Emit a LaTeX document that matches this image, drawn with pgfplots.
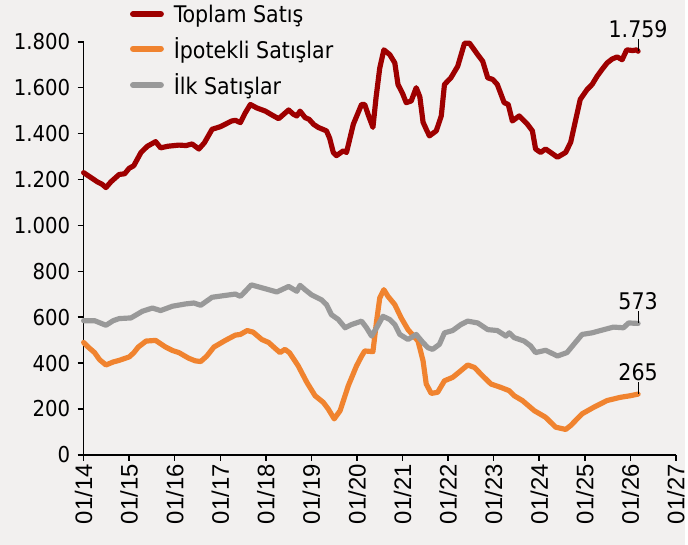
\documentclass[border=0pt]{standalone}
\usepackage{fontspec}
\setmainfont{DejaVu Sans Condensed}
\newfontfamily\arialf{Liberation Sans}
\usepackage{pgfplots}
\pgfplotsset{compat=1.18}

\definecolor{bg}{HTML}{F2F0EF}
\definecolor{toplam}{HTML}{9E0000}
\definecolor{ipotek}{HTML}{F0832F}
\definecolor{ilk}{HTML}{999999}

% x = years since 01/2014 (monthly data, last point 03/2026)
\pgfplotstableread{
x y
0 1230
0.15 1210
0.3 1190
0.4 1180
0.49 1165
0.6 1190
0.78 1222
0.9 1225
1.0 1249
1.1 1260
1.26 1318
1.4 1345
1.58 1365
1.69 1338
1.85 1345
2.09 1350
2.25 1348
2.38 1355
2.53 1333
2.65 1360
2.82 1419
3.0 1430
3.11 1441
3.25 1455
3.33 1458
3.44 1448
3.55 1491
3.66 1527
3.8 1512
3.99 1498
4.1 1485
4.28 1465
4.50 1503
4.6 1485
4.68 1477
4.75 1498
4.86 1470
4.95 1462
5.05 1440
5.15 1427
5.33 1412
5.40 1380
5.48 1318
5.55 1304
5.70 1325
5.77 1318
5.92 1441
6.10 1527
6.17 1527
6.25 1480
6.35 1427
6.42 1560
6.50 1686
6.59 1765
6.72 1744
6.83 1708
6.90 1614
7.0 1575
7.08 1535
7.19 1542
7.30 1600
7.38 1560
7.45 1450
7.52 1419
7.59 1390
7.74 1412
7.85 1477
7.92 1614
8.06 1643
8.21 1693
8.36 1794
8.47 1794
8.65 1744
8.76 1715
8.87 1643
8.98 1636
9.08 1614
9.23 1535
9.32 1527
9.41 1455
9.56 1477
9.74 1441
9.85 1412
9.92 1333
10.03 1318
10.14 1333
10.25 1318
10.40 1297
10.58 1318
10.69 1362
10.80 1460
10.90 1549
11.05 1592
11.16 1614
11.27 1650
11.38 1680
11.49 1708
11.60 1725
11.71 1734
11.82 1722
11.92 1765
12.05 1762
12.14 1765
12.17 1759
}\toplam

\pgfplotstableread{
x y
0 490
0.1 470
0.24 446
0.35 415
0.49 392
0.65 405
0.78 412
1.0 427
1.1 445
1.2 470
1.37 496
1.58 499
1.8 470
1.95 455
2.09 446
2.31 421
2.45 410
2.57 407
2.7 430
2.86 470
3.11 499
3.33 522
3.44 525
3.59 542
3.72 535
3.91 503
4.06 490
4.20 465
4.31 446
4.42 460
4.52 445
4.71 388
4.90 316
5.08 258
5.26 229
5.37 200
5.50 157
5.63 193
5.81 302
5.99 388
6.10 430
6.17 453
6.35 450
6.43 583
6.50 684
6.59 720
6.68 691
6.83 655
6.97 597
7.12 546
7.34 496
7.45 410
7.52 309
7.63 268
7.77 273
7.92 323
8.10 338
8.28 367
8.43 392
8.58 381
8.72 352
8.94 309
9.16 294
9.34 280
9.45 258
9.63 237
9.89 193
10.14 164
10.36 121
10.58 111
10.69 128
10.94 179
11.20 208
11.49 237
11.78 251
12.0 258
12.17 265
}\ipotekli

\pgfplotstableread{
x y
0 585
0.24 585
0.49 565
0.65 585
0.78 594
1.04 597
1.29 626
1.51 640
1.69 629
1.95 648
2.24 658
2.42 662
2.57 652
2.82 687
3.11 695
3.33 701
3.44 691
3.55 713
3.68 741
3.99 724
4.24 710
4.50 734
4.68 713
4.75 739
4.86 720
5.0 698
5.22 676
5.33 655
5.44 611
5.59 590
5.74 554
5.88 568
6.10 583
6.21 554
6.32 518
6.43 554
6.57 604
6.72 590
6.83 568
6.94 525
7.12 503
7.30 525
7.45 489
7.56 467
7.66 460
7.81 482
7.92 532
8.10 542
8.28 568
8.43 583
8.65 575
8.87 546
9.08 542
9.27 518
9.34 532
9.45 511
9.67 496
9.81 475
9.92 446
10.14 456
10.40 431
10.61 446
10.76 482
10.94 525
11.16 532
11.42 546
11.63 557
11.85 554
11.96 575
12.17 573
}\ilk

\begin{document}
\begin{tikzpicture}
\fill[bg] (-84pt,-90pt) rectangle (604pt,457pt);
\begin{axis}[
  at={(0pt,0pt)}, anchor=south west,
  scale only axis, width=595pt, height=415pt,
  xmin=0, xmax=13, ymin=0, ymax=1800,
  axis lines=left,
  axis line style={-, line width=1.5pt, black},
  xtick={0,...,13},
  xticklabels={01/14,01/15,01/16,01/17,01/18,01/19,01/20,01/21,01/22,01/23,01/24,01/25,01/26,01/27},
  ytick={0,200,...,1800},
  tick align=outside,
  major tick length=6pt,
  tick style={black, line width=1.5pt},
  /pgf/number format/1000 sep={.},
  /pgf/number format/assume math mode=true,
  yticklabel style={font=\fontsize{22}{26}\selectfont, xshift=-4pt},
  xticklabel style={rotate=90, anchor=east, font=\arialf\fontsize{24}{28}\selectfont},
  legend style={at={(axis description cs:0.073,1.10)}, anchor=north west,
    draw=none, fill=none, font=\fontsize{23}{27}\selectfont, row sep=10pt, column sep=8pt},
  legend cell align=left,
  legend image code/.code={\draw[#1, line width=6pt, line cap=round] (0pt,0pt) -- (28pt,0pt);},
  every axis plot/.append style={line width=5.2pt, line join=round, line cap=round},
  clip=false,
]
\addplot[toplam] table {\toplam};
\addlegendentry{Toplam Satış}
\addplot[ipotek] table {\ipotekli};
\addlegendentry{İpotekli Satışlar}
\addplot[ilk] table {\ilk};
\addlegendentry{İlk Satışlar}

\node[coordinate, pin={[pin distance=12pt, pin edge={black, line width=0.8pt}, inner sep=1pt, font=\fontsize{23}{27}\selectfont]90:1.759}] at (axis cs:12.17,1759) {};
\node[coordinate, pin={[pin distance=12pt, pin edge={black, line width=0.8pt}, inner sep=1pt, font=\fontsize{23}{27}\selectfont]90:573}] at (axis cs:12.17,573) {};
\node[coordinate, pin={[pin distance=12pt, pin edge={black, line width=0.8pt}, inner sep=1pt, font=\fontsize{23}{27}\selectfont]90:265}] at (axis cs:12.17,265) {};
\end{axis}
\end{tikzpicture}
\end{document}
